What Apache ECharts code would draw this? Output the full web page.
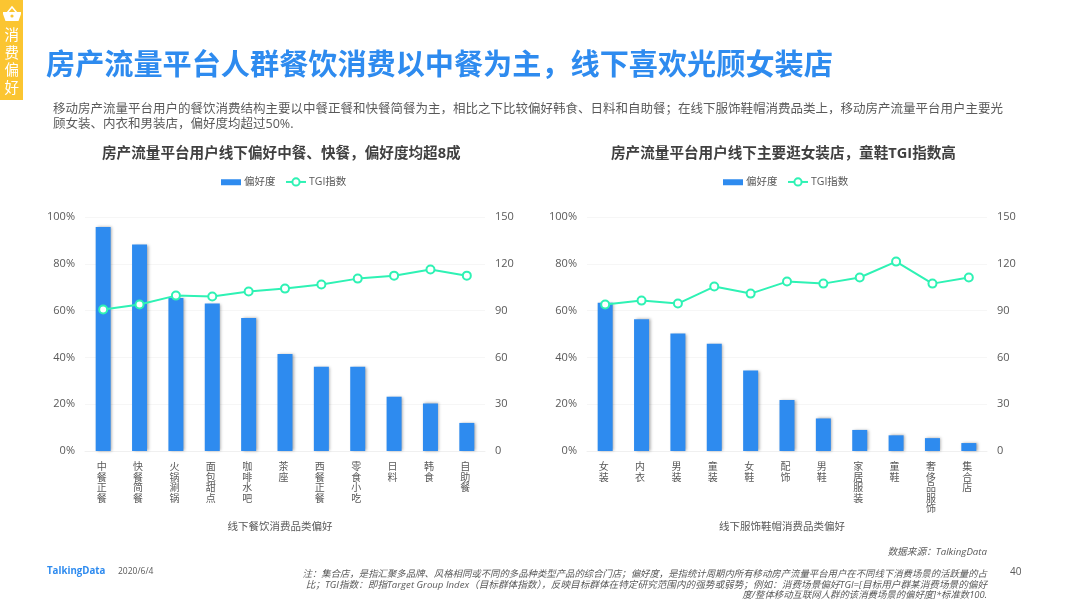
<!DOCTYPE html>
<html>
<head>
<meta charset="utf-8">
<style>
  html, body { margin: 0; padding: 0; background: #fff; }
  #main { width: 1066px; height: 599px; }
</style>
</head>
<body>
<div id="main"></div>
<script src="https://cdn.jsdelivr.net/npm/echarts@6/dist/echarts.min.js"></script>
<script>
var foodCats = ['中餐正餐', '快餐简餐', '火锅涮锅', '面包甜点', '咖啡水吧', '茶座', '西餐正餐', '零食小吃', '日料', '韩食', '自助餐'];
var foodPref = [95.7, 88.2, 65.4, 63, 56.8, 41.5, 36, 36, 23.2, 20.3, 12];
var foodTgi = [90.7, 93.9, 99.6, 99, 102.2, 104.1, 106.7, 110.5, 112.4, 116.3, 112.4];

var wearCats = ['女装', '内衣', '男装', '童装', '女鞋', '配饰', '男鞋', '家居服装', '童鞋', '奢侈品服饰', '集合店'];
var wearPref = [63.4, 56.3, 50.2, 45.8, 34.4, 21.8, 13.9, 9, 6.7, 5.5, 3.4];
var wearTgi = [93.9, 96.4, 94.5, 105.4, 100.9, 108.6, 107.3, 111.2, 121.4, 107.3, 111.2];

var FONT = '"Open Sans","Noto Sans CJK SC",sans-serif';
var BLUE = '#2E8BEF';
var GREEN = '#2EF2B4';
var GRAY = '#595959';

var myChart = echarts.init(document.getElementById('main'), null, { renderer: 'canvas' });

function xAxis(idx, cats, name) {
  return {
    type: 'category', gridIndex: idx, data: cats,
    name: name, nameLocation: 'middle', nameGap: 71,
    nameTextStyle: { color: GRAY, fontSize: 10.5, fontFamily: FONT, padding: [0, 10, 0, 0] },
    axisLine: { lineStyle: { color: '#f0f0f0' } },
    axisTick: { show: false },
    axisLabel: {
      interval: 0, margin: 11, color: GRAY, fontSize: 10, lineHeight: 10.5, fontFamily: FONT,
      verticalAlign: 'top', padding: [0, 3, 0, 0],
      formatter: function (v) { return v.split('').join('\n'); }
    }
  };
}

function yAxes(idx) {
  return [{
    type: 'value', gridIndex: idx, min: 0, max: 100, interval: 20,
    axisLine: { show: false }, axisTick: { show: false },
    splitLine: { lineStyle: { color: '#f6f6f6' } },
    axisLabel: { formatter: '{value}%', color: GRAY, fontSize: 11, margin: 10, fontFamily: FONT, padding: [4, 0, 0, 0] }
  }, {
    type: 'value', gridIndex: idx, position: 'right', min: 0, max: 150, interval: 30,
    axisLine: { show: false }, axisTick: { show: false }, splitLine: { show: false },
    axisLabel: { color: GRAY, fontSize: 11, margin: 10, fontFamily: FONT, padding: [4, 0, 0, 0] }
  }];
}

function series(idx, pref, tgi) {
  return [{
    name: '偏好度', type: 'bar', xAxisIndex: idx, yAxisIndex: idx * 2, data: pref, barWidth: 15,
    itemStyle: { color: BLUE, shadowColor: 'rgba(0,0,0,0.35)', shadowBlur: 3, shadowOffsetX: 1.5, shadowOffsetY: 0 }
  }, {
    name: 'TGI指数', type: 'line', xAxisIndex: idx, yAxisIndex: idx * 2 + 1, data: tgi,
    symbol: 'circle', symbolSize: 8, showAllSymbol: true,
    lineStyle: { color: GREEN, width: 2 },
    itemStyle: { color: '#fff', borderColor: GREEN, borderWidth: 2 }
  }];
}

function legend(left, name, height, top, icon) {
  var item = { name: name };
  if (icon) item.icon = icon;
  return {
    left: left, top: top, itemWidth: 20, itemHeight: height,
    textStyle: { color: GRAY, fontSize: 10.5, fontFamily: FONT, padding: [0, 0, 0, -2] },
    data: [item]
  };
}

function text(x, y, str, size, color, extra) {
  var style = { text: str, fontSize: size, fill: color, fontFamily: FONT, verticalAlign: 'middle' };
  for (var k in extra) style[k] = extra[k];
  return { type: 'text', x: x, y: y, silent: true, style: style };
}

var option = {
  animation: false,
  backgroundColor: '#fff',
  grid: [
    { left: 85, top: 217, width: 400, height: 234 },
    { left: 587, top: 217, width: 400, height: 234 }
  ],
  legend: [
    legend(216, '偏好度', 6, 172, 'rect'),
    legend(280, 'TGI指数', 9, 171.7),
    legend(718, '偏好度', 6, 172, 'rect'),
    legend(782, 'TGI指数', 9, 171.7)
  ],
  xAxis: [xAxis(0, foodCats, '线下餐饮消费品类偏好'), xAxis(1, wearCats, '线下服饰鞋帽消费品类偏好')],
  yAxis: yAxes(0).concat(yAxes(1)),
  series: series(0, foodPref, foodTgi).concat(series(1, wearPref, wearTgi)),
  graphic: [
    { type: 'rect', shape: { x: 0, y: 0, width: 23, height: 100 }, style: { fill: '#FBC531' } },
    { type: 'polyline', shape: { points: [[7, 13], [12, 7], [17, 13]] }, style: { stroke: '#fff', lineWidth: 1.5, fill: 'none' } },
    { type: 'polygon', shape: { points: [[3, 12], [21, 12], [21, 14], [18.5, 21], [5.5, 21], [3, 14]] }, style: { fill: '#fff' } },
    { type: 'circle', shape: { cx: 12, cy: 16, r: 1.6 }, style: { fill: '#FBC531' } },
    text(4.5, 36, '消', 14.5, '#fff'),
    text(4.5, 53.5, '费', 14.5, '#fff'),
    text(4.5, 71, '偏', 14.5, '#fff'),
    text(4.5, 88.5, '好', 14.5, '#fff'),
    text(46, 66.5, '房产流量平台人群餐饮消费以中餐为主，线下喜欢光顾女装店', 29.15, BLUE, { fontWeight: 'bold' }),
    text(53, 109, '移动房产流量平台用户的餐饮消费结构主要以中餐正餐和快餐简餐为主，相比之下比较偏好韩食、日料和自助餐；在线下服饰鞋帽消费品类上，移动房产流量平台用户主要光', 12.5, GRAY),
    text(53, 124, '顾女装、内衣和男装店，偏好度均超过50%.', 12.5, GRAY),
    text(102, 154, '房产流量平台用户线下偏好中餐、快餐，偏好度均超8成', 14.6, '#404040', { fontWeight: 'bold' }),
    text(611, 154, '房产流量平台用户线下主要逛女装店，童鞋TGI指数高', 14.6, '#404040', { fontWeight: 'bold' }),
    text(987, 552, '数据来源：TalkingData', 9.7, GRAY, { align: 'right', fontStyle: 'italic' }),
    text(47, 571.5, 'TalkingData', 9.7, BLUE, { fontWeight: 'bold' }),
    text(118, 572, '2020/6/4', 8.5, GRAY),
    text(1010, 572, '40', 10, GRAY),
    text(987, 574, '注：集合店，是指汇聚多品牌、风格相同或不同的多品种类型产品的综合门店；偏好度，是指统计周期内所有移动房产流量平台用户在不同线下消费场景的活跃量的占', 9.4, GRAY, { align: 'right', fontStyle: 'italic' }),
    text(987, 585, '比；TGI指数：即指Target Group Index（目标群体指数），反映目标群体在特定研究范围内的强势或弱势；例如：消费场景偏好TGI=[目标用户群某消费场景的偏好', 9.65, GRAY, { align: 'right', fontStyle: 'italic' }),
    text(987, 595, '度/整体移动互联网人群的该消费场景的偏好度]*标准数100.', 9.4, GRAY, { align: 'right', fontStyle: 'italic' })
  ]
};
myChart.setOption(option);
</script>
</body>
</html>
